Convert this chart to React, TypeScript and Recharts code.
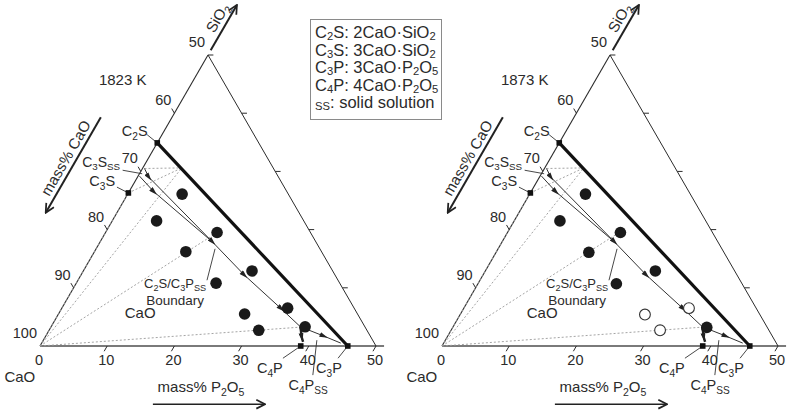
import React from 'react';
import { ComposedChart, XAxis, YAxis, Line, Scatter } from 'recharts';

// ---------- DATA (mass% SiO2, mass% P2O5; CaO = balance) ----------
const SIO2_1823 = [26.1, 21.5, 19.5, 16.2, 12.9, 10.8, 6.5, 5.5, 3.3, 2.7];
const P2O5_1823 = [8.1, 6.6, 16.6, 13.6, 25.1, 20.8, 33.6, 27.7, 37.8, 31.2];
const SOLID_1823 = [true, true, true, true, true, true, true, true, true, true];

const SIO2_1873 = [26.1, 21.5, 19.5, 16.1, 12.9, 10.7, 6.5, 5.4, 3.2, 2.7];
const P2O5_1873 = [8.3, 6.8, 16.8, 13.8, 25.3, 20.6, 33.5, 27.5, 37.8, 31.1];
const SOLID_1873 = [true, true, true, true, true, true, false, false, true, false];

const COMPOUNDS = ['C2S', 'C3S', 'C4P', 'C3P'];
const COMPOUND_SIO2 = [34.9, 26.3, 0, 0];
const COMPOUND_P2O5 = [0, 0, 38.8, 45.8];

// boundary paths (arrows at interior vertices)
const PATH_A_SIO2 = [30.5, 29.0, 17.9, 12.2, 6.4, 3.3];
const PATH_A_P2O5 = [0.3, 1.7, 16.7, 24.3, 32.7, 37.1];
const PATH_B_SIO2 = [29.2, 26.5, 17.9];
const PATH_B_P2O5 = [0.2, 3.7, 16.7];
const PATH_D_SIO2 = [3.3, 1.5, 0.7];
const PATH_D_P2O5 = [37.1, 38.2, 38.8];
const PATH_E_SIO2 = [3.3, 1.7, 0.5];
const PATH_E_P2O5 = [37.1, 41.4, 44.5];

// dotted tie lines
const TIE_START_SIO2 = [0, 0, 0, 0, 26.3, 30.5, 30.6];
const TIE_START_P2O5 = [0, 0, 0, 0, 0, 0.3, 5.8];
const TIE_END_SIO2 = [26.3, 30.6, 19.5, 3.3, 30.6, 30.6, 0];
const TIE_END_P2O5 = [0, 5.8, 16.6, 37.8, 5.8, 5.8, 45.8];

// axis ticks
const CAO_TICKS = [100, 90, 80, 70, 60, 50];
const P2O5_TICKS = [0, 10, 20, 30, 40, 50];
const SIO2_TICKS = [10, 20, 30, 40, 50];

// ---------- GEOMETRY ----------
const S3 = Math.sqrt(3) / 2;
const tx = (si: number, p: number) => p + si / 2;
const ty = (si: number) => si * S3;

const W = 400;
const H = 410;
const SCALE = 6.72;
const ORIGIN_X = 40;
const ORIGIN_Y = 346;
const X_MIN = -ORIGIN_X / SCALE;
const X_MAX = X_MIN + W / SCALE;
const Y_MAX = ORIGIN_Y / SCALE;
const Y_MIN = Y_MAX - H / SCALE;

const FONT = '"Liberation Sans", Arial, sans-serif';
const INK = '#2b2b2b';

type Seg = { si: number[]; p: number[]; stroke: string; width: number; dash?: string; mid?: boolean; end?: boolean };

function parts(s: string) {
  const out: { t: string; sub: boolean }[] = [];
  let i = 0;
  let buf = '';
  while (i < s.length) {
    if (s[i] === '_') {
      if (buf) out.push({ t: buf, sub: false });
      buf = '';
      if (s[i + 1] === '{') {
        const j = s.indexOf('}', i);
        out.push({ t: s.slice(i + 2, j), sub: true });
        i = j + 1;
      } else {
        out.push({ t: s[i + 1], sub: true });
        i += 2;
      }
    } else {
      buf += s[i];
      i++;
    }
  }
  if (buf) out.push({ t: buf, sub: false });
  return out;
}

function Rich({ text, fs }: { text: string; fs: number }) {
  const ps = parts(text);
  let prev = false;
  return (
    <>
      {ps.map((p, k) => {
        let dy = 0;
        if (p.sub && !prev) dy = fs * 0.26;
        if (!p.sub && prev) dy = -fs * 0.26;
        prev = p.sub;
        return (
          <tspan key={k} dy={dy} fontSize={p.sub ? fs * 0.7 : fs}>
            {p.t}
          </tspan>
        );
      })}
    </>
  );
}

type Lbl = { text: string; si: number; p: number; dx?: number; dy?: number; anchor?: string; fs?: number; rot?: number };

function buildLabels(title: string): Lbl[] {
  const L: Lbl[] = [];
  CAO_TICKS.forEach((c) => L.push({ text: String(c), si: 100 - c, p: 0, dx: -3, dy: -8, anchor: 'end', fs: 14.5 }));
  P2O5_TICKS.forEach((v) => L.push({ text: String(v), si: 0, p: v, dx: -1, dy: 19, fs: 14.5 }));
  L.push({ text: title, si: 44.8, p: -10.1, fs: 15 });
  L.push({ text: 'CaO', si: -6.2, p: 0.1, fs: 15 });
  L.push({ text: 'CaO', si: 4.8, p: 12.5, fs: 15 });
  L.push({ text: 'mass% P_2O_5', si: -7.9, p: 27.9, fs: 15 });
  L.push({ text: 'mass% CaO', si: 32.3, p: -12.3, fs: 15, rot: -60 });
  L.push({ text: 'SiO_2', si: 56.4, p: -1.8, fs: 15, rot: -60 });
  L.push({ text: 'C_2S', si: 34.9, p: 0, dx: -22.5, dy: -7, fs: 14.5 });
  L.push({ text: 'C_3S_{SS}', si: 30.8, p: -6.3, fs: 14 });
  L.push({ text: 'C_3S', si: 27.5, p: -4.5, fs: 14.5 });
  L.push({ text: 'C_2S/C_3P_{SS}', si: 10.0, p: 15.1, fs: 13 });
  L.push({ text: 'Boundary', si: 7.0, p: 16.6, fs: 13.5 });
  L.push({ text: 'C_4P', si: -4.6, p: 36.5, fs: 14.5 });
  L.push({ text: 'C_4P_{SS}', si: -7.6, p: 43.7, fs: 14.5 });
  L.push({ text: 'C_3P', si: -4.6, p: 45.3, fs: 14.5 });
  return L;
}

// leader lines for labels
const LEADERS: [number, number, number, number][] = [
  [36.3, -2.2, 34.9, 0],
  [30.2, -2.8, 29.6, 0.4],
  [27.3, -2.2, 26.3, 0],
  [11.3, 19.2, 16.7, 17.7],
  [-2.1, 37.2, 0, 38.8],
  [-5.0, 43.1, 1.0, 40.7],
  [-2.1, 45.4, 0, 45.8],
];

function Ternary({ title, sio2, p2o5, solid }: { title: string; sio2: number[]; p2o5: number[]; solid: boolean[] }) {
  const segs: Seg[] = [];
  // edges
  segs.push({ si: [0, 0], p: [0, 51.2], stroke: '#7a7a7a', width: 2 });
  segs.push({ si: [0, 50], p: [0, 0], stroke: INK, width: 1.1 });
  segs.push({ si: [50, 0], p: [0, 50], stroke: INK, width: 1 });
  // ticks
  P2O5_TICKS.filter((v) => v > 0).forEach((v) => segs.push({ si: [0, -0.9], p: [v, v], stroke: INK, width: 1 }));
  CAO_TICKS.filter((c) => c < 100 && c > 50).forEach((c) =>
    segs.push({ si: [100 - c, 100 - c + 0.8], p: [0, -0.8], stroke: INK, width: 1 })
  );
  SIO2_TICKS.forEach((s) => segs.push({ si: [s, s], p: [50 - s, 50 - s + 0.8], stroke: INK, width: 1 }));
  // tie lines
  TIE_START_SIO2.forEach((s, i) =>
    segs.push({
      si: [s, TIE_END_SIO2[i]],
      p: [TIE_START_P2O5[i], TIE_END_P2O5[i]],
      stroke: '#9a9a9a',
      width: 0.9,
      dash: '2 2',
    })
  );
  // C2S - C3P join
  segs.push({ si: [COMPOUND_SIO2[0], COMPOUND_SIO2[3]], p: [COMPOUND_P2O5[0], COMPOUND_P2O5[3]], stroke: '#111', width: 3.2 });
  // boundaries
  segs.push({ si: PATH_A_SIO2, p: PATH_A_P2O5, stroke: '#333', width: 1, mid: true });
  segs.push({ si: PATH_B_SIO2, p: PATH_B_P2O5, stroke: '#333', width: 1, mid: true });
  segs.push({ si: PATH_D_SIO2, p: PATH_D_P2O5, stroke: '#222', width: 2.4, mid: true });
  segs.push({ si: PATH_E_SIO2, p: PATH_E_P2O5, stroke: '#333', width: 1, mid: true });
  // leaders
  LEADERS.forEach((l) => segs.push({ si: [l[0], l[2]], p: [l[1], l[3]], stroke: '#333', width: 0.9 }));
  // axis arrows
  segs.push({ si: [39.3, 22.9], p: [-10.6, -10.6], stroke: '#222', width: 2, end: true });
  segs.push({ si: [50.8, 58.6], p: [0, 0], stroke: '#222', width: 2, end: true });
  segs.push({ si: [-10, -10], p: [21.8, 38.5], stroke: '#222', width: 1.6, end: true });

  const pts = sio2.map((s, i) => ({ x: tx(s, p2o5[i]), y: ty(s), solid: solid[i] }));
  const cpts = COMPOUNDS.map((n, i) => ({ x: tx(COMPOUND_SIO2[i], COMPOUND_P2O5[i]), y: ty(COMPOUND_SIO2[i]), name: n }));
  const lbls = buildLabels(title).map((l) => ({ ...l, x: tx(l.si, l.p), y: ty(l.si) }));

  const dotShape = (props: any) => {
    const { cx, cy, payload } = props;
    return payload.solid ? (
      <circle cx={cx} cy={cy} r={5.8} fill="#1a1a1a" />
    ) : (
      <circle cx={cx} cy={cy} r={5.4} fill="#fff" stroke="#333" strokeWidth={1.1} />
    );
  };
  const squareShape = (props: any) => {
    const { cx, cy } = props;
    return <rect x={cx - 2.8} y={cy - 2.8} width={5.6} height={5.6} fill="#111" />;
  };
  const labelShape = (props: any) => {
    const { cx, cy, payload } = props;
    const fs = payload.fs || 14;
    const x = cx + (payload.dx || 0);
    const y = cy + (payload.dy || 0);
    if (payload.rot) {
      return (
        <text
          x={x}
          y={y + fs * 0.35}
          textAnchor="middle"
          fontFamily={FONT}
          fill={INK}
          fontSize={fs}
          transform={`rotate(${payload.rot} ${x} ${y})`}
        >
          <Rich text={payload.text} fs={fs} />
        </text>
      );
    }
    return (
      <text x={x} y={y} textAnchor={payload.anchor || 'middle'} fontFamily={FONT} fill={INK} fontSize={fs}>
        <Rich text={payload.text} fs={fs} />
      </text>
    );
  };

  return (
    <ComposedChart width={W} height={H} margin={{ top: 0, right: 0, bottom: 0, left: 0 }}>
      <XAxis type="number" dataKey="x" domain={[X_MIN, X_MAX]} allowDataOverflow hide />
      <YAxis type="number" dataKey="y" domain={[Y_MIN, Y_MAX]} allowDataOverflow hide />
      {segs.map((s, i) => (
        <Line
          key={i}
          data={s.si.map((v, j) => ({ x: tx(v, s.p[j]), y: ty(v) }))}
          dataKey="y"
          type="linear"
          stroke={s.stroke}
          strokeWidth={s.width}
          strokeDasharray={s.dash}
          dot={false}
          activeDot={false}
          isAnimationActive={false}
          legendType="none"
          markerMid={s.mid ? 'url(#arrowSmall)' : undefined}
          markerEnd={s.end ? 'url(#arrowBig)' : undefined}
        />
      ))}
      <Scatter data={pts} shape={dotShape} isAnimationActive={false} />
      <Scatter data={cpts} shape={squareShape} isAnimationActive={false} />
      <Scatter data={lbls} shape={labelShape} isAnimationActive={false} />
    </ComposedChart>
  );
}

const LEGEND_LINES = [
  ['C', '2', 'S: 2CaO·SiO', '2'],
  ['C', '3', 'S: 3CaO·SiO', '2'],
  ['C', '3', 'P: 3CaO·P', '2', 'O', '5'],
  ['C', '4', 'P: 4CaO·P', '2', 'O', '5'],
];

const subStyle: React.CSSProperties = { fontSize: '0.68em', position: 'relative', top: '0.18em', lineHeight: 1 };

export default function App() {
  return (
    <div style={{ position: 'absolute', left: 0, top: 0, width: 794, height: 410, overflow: 'hidden', background: '#fff' }}>
      <svg width={0} height={0} style={{ position: 'absolute' }}>
        <defs>
          <marker id="arrowSmall" viewBox="0 0 10 6" refX="5" refY="3" markerWidth="9" markerHeight="5" markerUnits="userSpaceOnUse" orient="auto">
            <path d="M0,0 L10,3 L0,6 z" fill="#222" />
          </marker>
          <marker id="arrowBig" viewBox="0 0 10 10" refX="9" refY="5" markerWidth="11" markerHeight="11" markerUnits="userSpaceOnUse" orient="auto">
            <path d="M1,1 L9,5 L1,9" fill="none" stroke="#222" strokeWidth="1.6" />
          </marker>
        </defs>
      </svg>
      <div style={{ position: 'absolute', left: 0, top: 0 }}>
        <Ternary title="1823 K" sio2={SIO2_1823} p2o5={P2O5_1823} solid={SOLID_1823} />
      </div>
      <div style={{ position: 'absolute', left: 402, top: 0 }}>
        <Ternary title="1873 K" sio2={SIO2_1873} p2o5={P2O5_1873} solid={SOLID_1873} />
      </div>
      <div
        style={{
          position: 'absolute',
          left: 310,
          top: 19,
          width: 126,
          height: 95,
          border: '1px solid #8a8a8a',
          background: '#fff',
          fontFamily: FONT,
          fontSize: 16.5,
          color: INK,
          paddingTop: 4,
          paddingLeft: 4,
          boxSizing: 'content-box',
          zIndex: 2,
          overflow: 'hidden',
        }}
      >
        {LEGEND_LINES.map((ln, i) => (
          <div key={i} style={{ height: 17.5, lineHeight: '17.5px', whiteSpace: 'nowrap' }}>
            {ln.map((t, k) => (k % 2 === 1 ? <span key={k} style={subStyle}>{t}</span> : <span key={k}>{t}</span>))}
          </div>
        ))}
        <div style={{ height: 17.5, lineHeight: '17.5px', whiteSpace: 'nowrap' }}>
          <span style={subStyle}>SS</span>: solid solution
        </div>
      </div>
    </div>
  );
}
